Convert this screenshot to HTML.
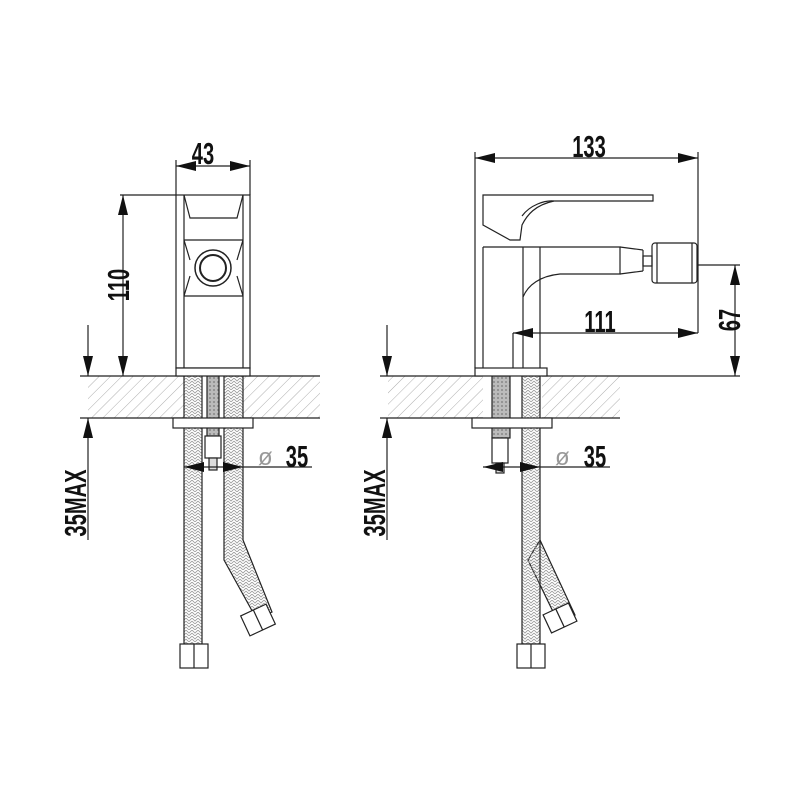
<!DOCTYPE html>
<html><head><meta charset="utf-8"><style>
html,body{margin:0;padding:0;background:#fff;}
svg{display:block;}
text{font-family:"Liberation Sans",sans-serif;fill:#111;}
</style></head><body>
<svg width="800" height="800" viewBox="0 0 800 800" xmlns="http://www.w3.org/2000/svg">
<defs>
<pattern id="hatch" width="8" height="8" patternUnits="userSpaceOnUse" patternTransform="rotate(45)">
<line x1="0" y1="0" x2="0" y2="8" stroke="#999" stroke-width="0.8"/>
</pattern>
<pattern id="braid" width="6" height="6" patternUnits="userSpaceOnUse">
<path d="M0 0 L3 3 L6 0 M0 3 L3 6 L6 3" fill="none" stroke="#999" stroke-width="0.8"/>
</pattern>
<pattern id="stud" width="4" height="4" patternUnits="userSpaceOnUse">
<rect width="4" height="4" fill="#bbb"/><circle cx="2" cy="2" r="1" fill="#888"/>
</pattern>
</defs>
<g stroke="#222" stroke-width="1.2" fill="none">
<rect x="88" y="376" width="232" height="42" fill="url(#hatch)" stroke="none"/>
<line x1="80" y1="376" x2="320" y2="376"/><line x1="80" y1="418" x2="320" y2="418"/>
<rect x="184" y="376" width="59" height="42" fill="#fff" stroke="none"/>
<rect x="184" y="376" width="18" height="268" fill="url(#braid)"/>
<path d="M224 376 L243 376 L243 540 L272 612 L256 618 L224 560 Z" fill="url(#braid)"/>
<rect x="207" y="376" width="12" height="60" fill="url(#stud)"/>
<rect x="205" y="436" width="16" height="22" fill="#fff"/>
<rect x="209" y="458" width="8" height="12" fill="#ddd"/>
<rect x="180" y="644" width="28" height="24" fill="#fff"/><line x1="194" y1="644" x2="194" y2="668"/>
<g transform="rotate(-25 258 620)"><rect x="244" y="609" width="28" height="22" fill="#fff"/><line x1="258" y1="609" x2="258" y2="631"/></g>
<rect x="173" y="418" width="80" height="10" fill="#fff"/>
<rect x="176" y="195" width="74" height="173" fill="#fff"/>
<line x1="184" y1="195" x2="184" y2="368"/><line x1="243" y1="195" x2="243" y2="368"/>
<path d="M184 195 L190 218 L237 218 L243 195"/>
<line x1="184" y1="240" x2="243" y2="240"/>
<line x1="184" y1="296" x2="243" y2="296"/>
<path d="M184 240 L190 260 M243 240 L237 260 M184 296 L190 276 M243 296 L237 276"/>
<circle cx="213" cy="268" r="18" stroke-width="1.5"/><circle cx="213" cy="268" r="13" stroke-width="2"/>
<rect x="176" y="368" width="74" height="8" fill="#fff"/>
<line x1="176" y1="160" x2="176" y2="195"/><line x1="250" y1="160" x2="250" y2="195"/>
<line x1="176" y1="166" x2="250" y2="166"/>
<line x1="120" y1="195" x2="176" y2="195"/>
<line x1="123" y1="195" x2="123" y2="376"/>
<line x1="88" y1="325" x2="88" y2="376"/>
<line x1="88" y1="540" x2="88" y2="418"/>
<line x1="184" y1="467" x2="312" y2="467"/>
<rect x="388" y="376" width="232" height="42" fill="url(#hatch)" stroke="none"/>
<line x1="380" y1="376" x2="740" y2="376"/><line x1="380" y1="418" x2="620" y2="418"/>
<rect x="483" y="376" width="59" height="42" fill="#fff" stroke="none"/>
<rect x="492" y="376" width="18" height="62" fill="url(#stud)"/>
<rect x="492" y="438" width="16" height="25" fill="#fff"/>
<rect x="496" y="463" width="8" height="10" fill="#ddd"/>
<path d="M540 540 L575 615 L558 622 L528 560 Z" fill="url(#braid)"/>
<g transform="rotate(-25 560 618)"><rect x="546" y="608" width="28" height="20" fill="#fff"/><line x1="560" y1="608" x2="560" y2="628"/></g>
<rect x="522" y="376" width="18" height="268" fill="url(#braid)"/>
<rect x="517" y="644" width="28" height="24" fill="#fff"/><line x1="531" y1="644" x2="531" y2="668"/>
<rect x="472" y="418" width="80" height="10" fill="#fff"/>
<path d="M483 247 L620 247 L620 274 L560 274 C540 276 528 285 523 297 L523 368" />
<line x1="483" y1="247" x2="483" y2="368"/>
<line x1="523" y1="247" x2="523" y2="297"/>
<line x1="540" y1="247" x2="540" y2="368"/>
<line x1="620" y1="247" x2="643" y2="250"/><line x1="620" y1="274" x2="643" y2="271"/>
<line x1="643" y1="250" x2="643" y2="271"/>
<rect x="643" y="256" width="9" height="10"/>
<rect x="652" y="243" width="45" height="40" rx="3"/>
<line x1="657" y1="243" x2="657" y2="283"/><line x1="692" y1="243" x2="692" y2="283"/>
<path d="M483 195 L653 195 L653 201 L554 201 C535 205 527 215 522 225 L520 240 L510 240 L483 225 Z"/>
<path d="M522 216 C530 205 545 200 554 201"/>
<rect x="475" y="368" width="72" height="8" fill="#fff"/>
<line x1="475" y1="152" x2="475" y2="368"/><line x1="698" y1="152" x2="698" y2="333"/>
<line x1="475" y1="158" x2="698" y2="158"/>
<line x1="513" y1="333" x2="513" y2="368"/>
<line x1="513" y1="333" x2="698" y2="333"/>
<line x1="697" y1="265" x2="740" y2="265"/>
<line x1="735" y1="265" x2="735" y2="376"/>
<line x1="387" y1="325" x2="387" y2="376"/>
<line x1="387" y1="540" x2="387" y2="418"/>
<line x1="483" y1="467" x2="610" y2="467"/>
</g>
<g fill="#111" stroke="none">
<polygon points="176,166 196,161 196,171"/><polygon points="250,166 230,161 230,171"/>
<polygon points="123,195 118,215 128,215"/><polygon points="123,376 118,356 128,356"/>
<polygon points="88,376 83,356 93,356"/><polygon points="88,418 83,438 93,438"/>
<polygon points="184,467 204,462 204,472"/><polygon points="243,467 223,462 223,472"/>
<polygon points="475,158 495,153 495,163"/><polygon points="698,158 678,153 678,163"/>
<polygon points="513,333 533,328 533,338"/><polygon points="698,333 678,328 678,338"/>
<polygon points="735,265 730,285 740,285"/><polygon points="735,376 730,356 740,356"/>
<polygon points="387,376 382,356 392,356"/><polygon points="387,418 382,438 392,438"/>
<polygon points="483,467 503,462 503,472"/><polygon points="540,467 520,462 520,472"/>
</g>
<g font-size="31" font-weight="bold">
<text x="203" y="164" text-anchor="middle" style="transform:scaleX(0.65);transform-origin:203px 164px">43</text>
<text x="589" y="157" text-anchor="middle" style="transform:scaleX(0.65);transform-origin:589px 157px">133</text>
<text x="600" y="332" text-anchor="middle" style="transform:scaleX(0.65);transform-origin:600px 332px">111</text>
<text x="0" y="0" text-anchor="middle" transform="translate(129 285) rotate(-90) scale(0.65 1)">110</text>
<text x="0" y="0" text-anchor="middle" transform="translate(740 320) rotate(-90) scale(0.65 1)">67</text>
<text x="0" y="0" text-anchor="middle" transform="translate(86 503) rotate(-90) scale(0.65 1)">35MAX</text>
<text x="0" y="0" text-anchor="middle" transform="translate(385 503) rotate(-90) scale(0.65 1)">35MAX</text>
<text x="297" y="467" text-anchor="middle" style="transform:scaleX(0.65);transform-origin:297px 467px">35</text>
<text x="595" y="467" text-anchor="middle" style="transform:scaleX(0.65);transform-origin:595px 467px">35</text>
<text x="258" y="465" font-size="24" font-weight="normal" style="fill:#999">ø</text>
<text x="555" y="465" font-size="24" font-weight="normal" style="fill:#999">ø</text>
</g>
</svg>
</body></html>
